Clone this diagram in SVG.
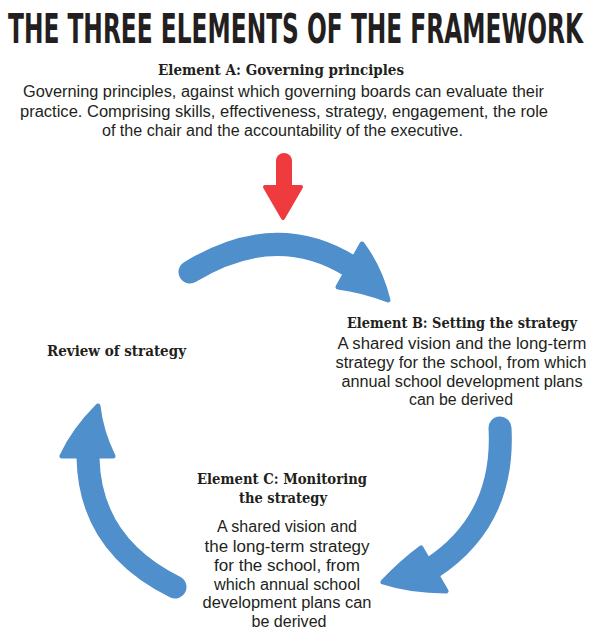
<svg xmlns="http://www.w3.org/2000/svg" width="600" height="640" viewBox="0 0 600 640">
<style>
.title{font-family:"DejaVu Sans Condensed","DejaVu Sans",sans-serif;font-weight:bold;font-size:25.5px;fill:#231f20}
.head{font-family:"DejaVu Serif Condensed","DejaVu Serif","Liberation Serif",serif;font-weight:bold;font-size:14.5px;fill:#231f20}
.body{font-family:"Liberation Sans","DejaVu Sans",sans-serif;font-size:16px;fill:#231f20}
.shaft{fill:none;stroke:#4f8fcc;stroke-width:23;stroke-linecap:round}
.ahead{fill:#4f8fcc;stroke:#4f8fcc;stroke-width:5;stroke-linejoin:round}
</style>
<rect width="600" height="640" fill="#ffffff"/>
<text class="title" transform="translate(8,43) scale(1,1.6)" x="0" y="0" textLength="575" lengthAdjust="spacingAndGlyphs">THE THREE ELEMENTS OF THE FRAMEWORK</text>

<g id="elementA">
<text class="head" x="281" y="75" text-anchor="middle" textLength="246" lengthAdjust="spacingAndGlyphs">Element A: Governing principles</text>
<text class="body" x="283.5" y="97" text-anchor="middle" textLength="521" lengthAdjust="spacingAndGlyphs">Governing principles, against which governing boards can evaluate their</text>
<text class="body" x="284" y="117" text-anchor="middle" textLength="528" lengthAdjust="spacingAndGlyphs">practice. Comprising skills, effectiveness, strategy, engagement, the role</text>
<text class="body" x="282.5" y="136" text-anchor="middle" textLength="361" lengthAdjust="spacingAndGlyphs">of the chair and the accountability of the executive.</text>
</g>

<g id="elementB">
<text class="head" x="462" y="328" text-anchor="middle" textLength="230" lengthAdjust="spacingAndGlyphs">Element B: Setting the strategy</text>
<text class="body" x="462" y="349" text-anchor="middle" textLength="249" lengthAdjust="spacingAndGlyphs">A shared vision and the long-term</text>
<text class="body" x="461" y="368" text-anchor="middle" textLength="251" lengthAdjust="spacingAndGlyphs">strategy for the school, from which</text>
<text class="body" x="462" y="387" text-anchor="middle" textLength="241" lengthAdjust="spacingAndGlyphs">annual school development plans</text>
<text class="body" x="461" y="405" text-anchor="middle" textLength="104" lengthAdjust="spacingAndGlyphs">can be derived</text>
</g>

<g id="review">
<text class="head" x="47" y="356" textLength="139" lengthAdjust="spacingAndGlyphs">Review of strategy</text>
</g>

<g id="elementC">
<text class="head" x="282" y="484" text-anchor="middle" textLength="170" lengthAdjust="spacingAndGlyphs">Element C: Monitoring</text>
<text class="head" x="283" y="503" text-anchor="middle" textLength="88" lengthAdjust="spacingAndGlyphs">the strategy</text>
<text class="body" x="287" y="532" text-anchor="middle" textLength="140" lengthAdjust="spacingAndGlyphs">A shared vision and</text>
<text class="body" x="287" y="552" text-anchor="middle" textLength="165" lengthAdjust="spacingAndGlyphs">the long-term strategy</text>
<text class="body" x="287" y="571" text-anchor="middle" textLength="146" lengthAdjust="spacingAndGlyphs">for the school, from</text>
<text class="body" x="287" y="590" text-anchor="middle" textLength="146" lengthAdjust="spacingAndGlyphs">which annual school</text>
<text class="body" x="287" y="608" text-anchor="middle" textLength="169" lengthAdjust="spacingAndGlyphs">development plans can</text>
<text class="body" x="289" y="627" text-anchor="middle" textLength="75" lengthAdjust="spacingAndGlyphs">be derived</text>
</g>

<g id="connectors">
<g id="input-arrow">
<path d="M284,161 L284,187" fill="none" stroke="#ef3b3e" stroke-width="16" stroke-linecap="round"/>
<path d="M265,187 L301,187 L283,218 Z" fill="#ef3b3e" stroke="#ef3b3e" stroke-width="4" stroke-linejoin="round"/>
</g>
<g id="arc-A-B">
<path class="shaft" d="M190,272 Q275,220 350,266"/>
<path class="ahead" d="M338,287 L362,244 Q380,268 388,300 Q362,290 338,287 Z"/>
</g>
<g id="arc-B-C">
<path class="shaft" d="M500,428 Q505,520 432,568"/>
<path class="ahead" d="M421,548 L446,591 Q410,591 383,582 Q402,562 421,548 Z"/>
</g>
<g id="arc-C-review">
<path class="shaft" d="M175,587 Q90,545 88,458"/>
<path class="ahead" d="M98,406 Q74,430 62,456 L113,456 Q101,432 98,406 Z"/>
</g>
</g>
</svg>
